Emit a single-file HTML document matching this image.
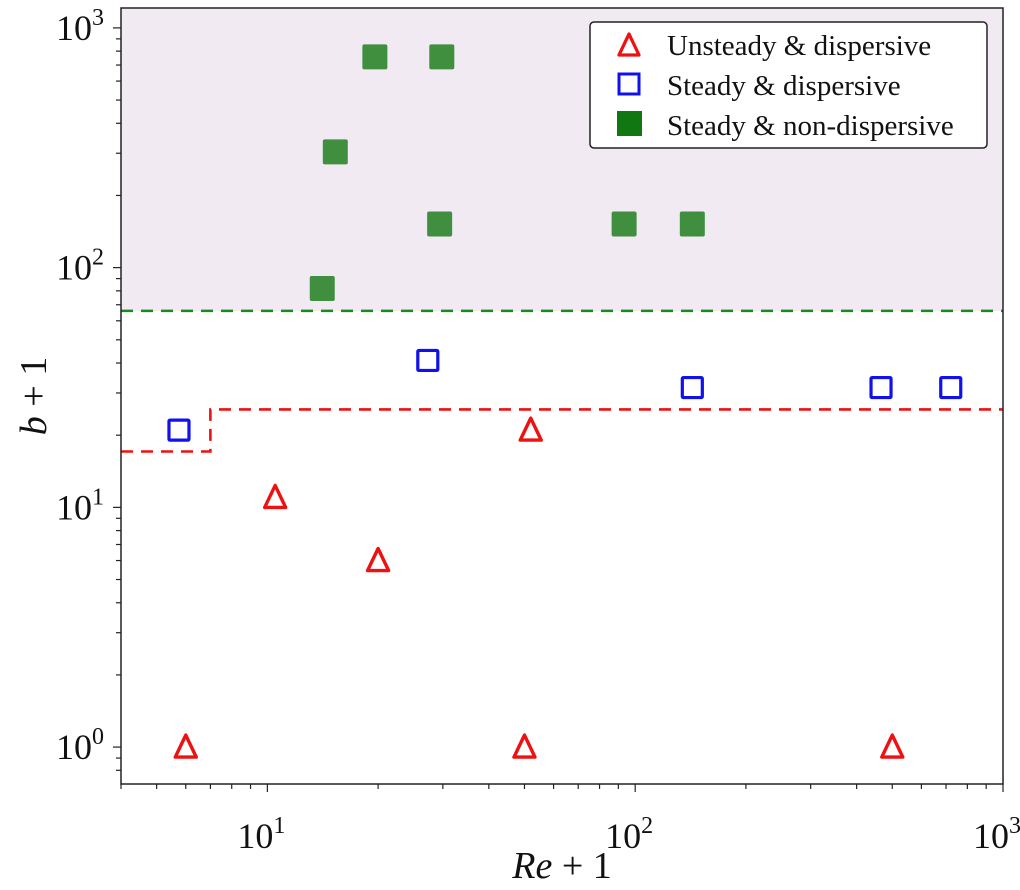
<!DOCTYPE html>
<html><head><meta charset="utf-8"><style>
body{margin:0;background:#fff;}
svg text{font-family:"Liberation Serif",serif;fill:#111;}
</style></head><body>
<svg id="chart" width="1020" height="885" viewBox="0 0 1020 885" xmlns="http://www.w3.org/2000/svg">
<g id="plot"></g>
</svg>
<script>
const unsteadyRe=[6,50,500,10.5,20,52];
const unsteadyB=[1,1,1,11,6,21];
const steadyDispRe=[5.75,27.3,143,466,721];
const steadyDispB=[21,41,31.6,31.6,31.6];
const steadyNonRe=[19.6,29.8,15.3,29.4,93.3,143,14.1];
const steadyNonB=[757,757,304,152,152,152,81.8];
const greenThreshold=66;
const redStepRe=[4,7,7,1000];
const redStepB=[17.1,17.1,25.6,25.6];
const xTickExp=[1,2,3];
const yTickExp=[0,1,2,3];

const L=121,R=1003,T=8,B=784;
const xMinL=Math.log10(4), xMaxL=3;
const yMinL=-0.154, yMaxL=3.083;
function X(v){return L+(Math.log10(v)-xMinL)/(xMaxL-xMinL)*(R-L);}
function Y(v){return B-(Math.log10(v)-yMinL)/(yMaxL-yMinL)*(B-T);}
const NS='http://www.w3.org/2000/svg';
const g=document.getElementById('plot');
function mk(tag,attrs,parent){const e=document.createElementNS(NS,tag);for(const k in attrs)e.setAttribute(k,attrs[k]);(parent||g).appendChild(e);return e;}

let e;
e=mk('rect',{x:L,y:T,width:R-L,height:Y(greenThreshold)-T,fill:'#f1eaf2'});


e=mk('line',{x1:L,x2:R,y1:Y(greenThreshold),y2:Y(greenThreshold),stroke:'#1a8a1a','stroke-width':2.6,'stroke-dasharray':'12 8'});


let pts=redStepRe.map((r,i)=>X(r)+','+Y(redStepB[i])).join(' ');
e=mk('polyline',{points:pts,fill:'none',stroke:'#ee1111','stroke-width':2.6,'stroke-dasharray':'12 8'});



const ax=mk('g',{stroke:'#222','stroke-width':1.2});


for(let d=0;d<=3;d++)for(let m=1;m<10;m++){
  const v=m*Math.pow(10,d);
  if(v>=4&&v<=1000){const x=X(v);mk('line',{x1:x,x2:x,y1:B,y2:B+(m==1?8:5)},ax);}
}
for(let d=-1;d<=3;d++)for(let m=1;m<10;m++){
  const v=m*Math.pow(10,d);const lv=Math.log10(v);
  if(lv>=yMinL&&lv<=yMaxL){const y=Y(v);mk('line',{x1:L,x2:L-(m==1?8:5),y1:y,y2:y},ax);}
}
xTickExp.forEach(p=>{
  const t=mk('text',{x:X(Math.pow(10,p))-6,y:848,'font-size':36,'text-anchor':'middle'});
  
  
  t.innerHTML='10<tspan dy="-15" font-size="24">'+p+'</tspan>';
});
yTickExp.forEach(p=>{
  const t=mk('text',{x:104,y:Y(Math.pow(10,p))+12,'font-size':36,'text-anchor':'end'});
  
  
  t.innerHTML='10<tspan dy="-15" font-size="24">'+p+'</tspan>';
});

unsteadyRe.forEach((r,i)=>{
  const x=X(r),y=Y(unsteadyB[i]);
  const m=mk('polygon',{points:`${x},${y-12} ${x-10.5},${y+10} ${x+10.5},${y+10}`,fill:'none',stroke:'#ee1111','stroke-width':3.4,'stroke-linejoin':'round'});
  
  
});
steadyDispRe.forEach((r,i)=>{
  const x=X(r),y=Y(steadyDispB[i]);
  const m=mk('rect',{x:x-10,y:y-10,width:20,height:20,fill:'none',stroke:'#1111ee','stroke-width':3.2,rx:1});
  
  
});
steadyNonRe.forEach((r,i)=>{
  const x=X(r),y=Y(steadyNonB[i]);
  const m=mk('rect',{x:x-12.5,y:y-12.5,width:25,height:25,fill:'#3f8f3f',rx:2});
  
  
});

e=mk('rect',{x:L,y:T,width:R-L,height:B-T,fill:'none',stroke:'#222','stroke-width':1.5});



const lg=mk('g',{});


mk('rect',{x:590,y:22,width:397,height:126,rx:4,fill:'#fff',stroke:'#222','stroke-width':1.5},lg);
mk('polygon',{points:'629,34 619,55 639,55',fill:'none',stroke:'#ee1111','stroke-width':3.2,'stroke-linejoin':'round'},lg);
mk('rect',{x:619,y:74,width:20,height:20,fill:'none',stroke:'#1111ee','stroke-width':3},lg);
mk('rect',{x:617,y:111,width:25,height:25,fill:'#117711'},lg);
const labels=['Unsteady & dispersive','Steady & dispersive','Steady & non-dispersive'];
labels.forEach((s,i)=>{
  const t=mk('text',{x:667,y:55+i*40,'font-size':29},lg);
  
  
  t.textContent=s;
});

let t=mk('text',{x:562,y:878,'font-size':38,'text-anchor':'middle'});


t.innerHTML='<tspan font-style="italic">Re</tspan> + 1';
t=mk('text',{x:0,y:0,'font-size':38,'text-anchor':'middle',transform:'translate(46,396) rotate(-90)'});


t.innerHTML='<tspan font-style="italic">b</tspan> + 1';
</script>
</body></html>
